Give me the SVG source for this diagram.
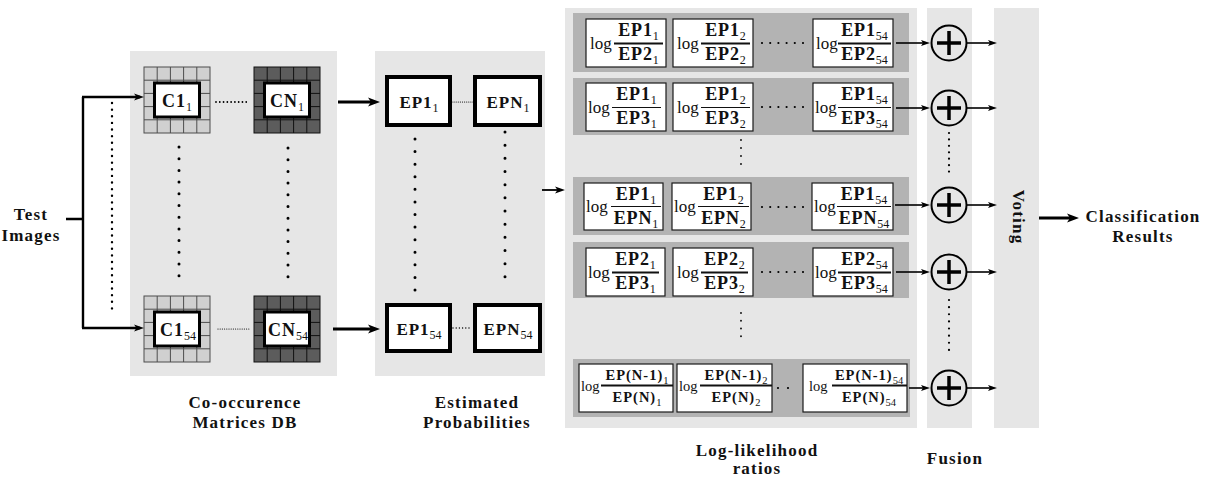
<svg xmlns="http://www.w3.org/2000/svg" xmlns:xlink="http://www.w3.org/1999/xlink" width="1213" height="479" viewBox="0 0 1213 479" font-family="'Liberation Serif', 'DejaVu Serif', serif">
  <style>
    .t { font-family: 'Liberation Serif', 'DejaVu Serif', serif; fill: #111; }
    .lbl { font-weight: bold; font-size: 17px; letter-spacing: 1.2px; text-anchor: middle; }
    .big { font-weight: bold; font-size: 18px; letter-spacing: 1px; text-anchor: middle; }
    .ep { font-weight: bold; font-size: 17px; letter-spacing: 1px; text-anchor: middle; }
    .num { font-weight: bold; font-size: 18px; letter-spacing: 0.8px; text-anchor: middle; }
    .lg { font-size: 17px; }
    .sm { font-weight: bold; font-size: 14.5px; letter-spacing: 1px; text-anchor: middle; }
    .lgs { font-size: 14.5px; }
    .s { font-weight: normal; font-size: 12px; letter-spacing: 0; }
    .ss { font-weight: normal; font-size: 10.5px; letter-spacing: 0; }
    .panel { fill: #e6e6e6; }
    .strip { fill: #b3b3b3; }
    .box { fill: #fff; stroke: #1a1a1a; stroke-width: 1.2; }
    .bar { stroke: #111; stroke-width: 2; }
    .barthin { stroke: #111; stroke-width: 1.2; }
    .ln { fill: none; stroke: #000; }
    .dots { fill: none; stroke: #000; stroke-linecap: round; }
    .sum { fill: none; stroke: #000; stroke-width: 2; }
    .plus { fill: none; stroke: #000; stroke-width: 3.5; }
  </style>
  <defs>
    <marker id="ah" viewBox="0 0 10 8" refX="6" refY="4" markerWidth="10" markerHeight="8" markerUnits="userSpaceOnUse" orient="auto">
      <path d="M0,0.5 L10,4 L0,7.5 L2.5,4 Z" fill="#000"/>
    </marker>
    <marker id="ahs" viewBox="0 0 9 6" refX="5" refY="3" markerWidth="9" markerHeight="6" markerUnits="userSpaceOnUse" orient="auto">
      <path d="M0,0 L9,3 L0,6 L2,3 Z" fill="#000"/>
    </marker>
    <marker id="ahb" viewBox="0 0 12 10" refX="7" refY="5" markerWidth="12" markerHeight="10" markerUnits="userSpaceOnUse" orient="auto">
      <path d="M0,0.5 L12,5 L0,9.5 L3,5 Z" fill="#000"/>
    </marker>
    <!-- 5x5 co-occurrence grid, light cells -->
    <g id="gridLight">
      <rect x="0" y="0" width="66" height="66" fill="#d0d0d0" stroke="#4d4d4d" stroke-width="1"/>
      <path d="M13.2,0V66M26.4,0V66M39.6,0V66M52.8,0V66M0,13.2H66M0,26.4H66M0,39.6H66M0,52.8H66" stroke="#4d4d4d" stroke-width="1"/>
      <rect x="10.5" y="16" width="45" height="34" fill="#fff" stroke="#000" stroke-width="3"/>
    </g>
    <!-- 5x5 co-occurrence grid, dark cells -->
    <g id="gridDark">
      <rect x="0" y="0" width="66" height="66" fill="#5c5c5c" stroke="#111" stroke-width="1"/>
      <path d="M13.2,0V66M26.4,0V66M39.6,0V66M52.8,0V66M0,13.2H66M0,26.4H66M0,39.6H66M0,52.8H66" stroke="#111" stroke-width="1"/>
      <rect x="10.5" y="16" width="45" height="34" fill="#fff" stroke="#000" stroke-width="3"/>
    </g>
    <g id="sumNode">
      <circle cx="0" cy="0" r="17.5" class="sum"/>
      <path d="M-12,0H12M0,-12V12" class="plus"/>
    </g>
  </defs>

  <!-- background panels -->
  <g id="panels">
    <rect class="panel" x="130" y="51" width="207" height="325"/>
    <rect class="panel" x="375" y="51" width="170" height="325"/>
    <rect class="panel" x="565" y="8" width="352" height="420"/>
    <rect class="panel" x="927" y="8" width="45" height="420"/>
    <rect class="panel" x="994" y="8" width="45" height="420"/>
    <rect class="strip" x="573" y="13" width="336" height="59"/>
    <rect class="strip" x="573" y="78" width="336" height="57"/>
    <rect class="strip" x="573" y="177" width="336" height="58"/>
    <rect class="strip" x="573" y="242" width="336" height="56"/>
    <rect class="strip" x="573" y="359" width="337" height="58"/>
  </g>

  <!-- input -->
  <g id="test-images">
    <text class="t lbl" x="31" y="220">Test</text>
    <text class="t lbl" x="31" y="241">Images</text>
  </g>

  <!-- co-occurrence matrices -->
  <g id="c1-1">
    <use xlink:href="#gridLight" x="144" y="67"/>
    <text class="t big" x="177" y="107">C1<tspan class="s" dy="4">1</tspan></text>
  </g>
  <g id="cn-1">
    <use xlink:href="#gridDark" x="254" y="67"/>
    <text class="t big" x="287" y="107">CN<tspan class="s" dy="4">1</tspan></text>
  </g>
  <g id="c1-54">
    <use xlink:href="#gridLight" x="144" y="296"/>
    <text class="t big" x="178" y="336">C1<tspan class="s" dy="4">54</tspan></text>
  </g>
  <g id="cn-54">
    <use xlink:href="#gridDark" x="254" y="296"/>
    <text class="t big" x="288" y="336">CN<tspan class="s" dy="4">54</tspan></text>
  </g>

  <!-- estimated probabilities -->
  <g id="ep1-1">
    <rect x="387" y="77" width="63" height="48" fill="#fff" stroke="#000" stroke-width="4"/>
    <text class="t ep" x="419" y="108">EP1<tspan class="s" dy="4">1</tspan></text>
  </g>
  <g id="epn-1">
    <rect x="475" y="77" width="65" height="48" fill="#fff" stroke="#000" stroke-width="4"/>
    <text class="t ep" x="508" y="108">EPN<tspan class="s" dy="4">1</tspan></text>
  </g>
  <g id="ep1-54">
    <rect x="387" y="305" width="63" height="46" fill="#fff" stroke="#000" stroke-width="4"/>
    <text class="t ep" x="419" y="335">EP1<tspan class="s" dy="4">54</tspan></text>
  </g>
  <g id="epn-54">
    <rect x="475" y="305" width="65" height="46" fill="#fff" stroke="#000" stroke-width="4"/>
    <text class="t ep" x="508" y="335">EPN<tspan class="s" dy="4">54</tspan></text>
  </g>

  <!-- log-likelihood ratios, row EP1/EP2 -->
  <g id="llr-1-2">
    <rect class="box" x="586" y="19" width="80" height="48"/>
    <text class="t lg" x="590" y="49">log</text>
    <line class="bar" x1="614" y1="43.5" x2="663" y2="43.5"/>
    <text class="t num" x="638.5" y="36">EP1<tspan class="s" dy="4">1</tspan></text>
    <text class="t num" x="638.5" y="60">EP2<tspan class="s" dy="4">1</tspan></text>
    <rect class="box" x="673" y="19" width="80" height="48"/>
    <text class="t lg" x="677" y="49">log</text>
    <line class="bar" x1="701" y1="43.5" x2="750" y2="43.5"/>
    <text class="t num" x="725.5" y="36">EP1<tspan class="s" dy="4">2</tspan></text>
    <text class="t num" x="725.5" y="60">EP2<tspan class="s" dy="4">2</tspan></text>
    <rect class="box" x="813" y="19" width="80" height="48"/>
    <text class="t lg" x="816" y="49">log</text>
    <line class="bar" x1="838" y1="43.5" x2="891" y2="43.5"/>
    <text class="t num" x="864.5" y="36">EP1<tspan class="s" dy="4">54</tspan></text>
    <text class="t num" x="864.5" y="60">EP2<tspan class="s" dy="4">54</tspan></text>
  </g>

  <!-- row EP1/EP3 -->
  <g id="llr-1-3">
    <rect class="box" x="586" y="83" width="80" height="48"/>
    <text class="t lg" x="588" y="113">log</text>
    <line class="barthin" x1="612" y1="107.5" x2="661" y2="107.5"/>
    <text class="t num" x="636.5" y="100">EP1<tspan class="s" dy="4">1</tspan></text>
    <text class="t num" x="636.5" y="124">EP3<tspan class="s" dy="4">1</tspan></text>
    <rect class="box" x="673" y="83" width="80" height="48"/>
    <text class="t lg" x="677" y="113">log</text>
    <line class="barthin" x1="701" y1="107.5" x2="750" y2="107.5"/>
    <text class="t num" x="725.5" y="100">EP1<tspan class="s" dy="4">2</tspan></text>
    <text class="t num" x="725.5" y="124">EP3<tspan class="s" dy="4">2</tspan></text>
    <rect class="box" x="813" y="83" width="80" height="48"/>
    <text class="t lg" x="815" y="113">log</text>
    <line class="barthin" x1="838" y1="107.5" x2="891" y2="107.5"/>
    <text class="t num" x="864.5" y="100">EP1<tspan class="s" dy="4">54</tspan></text>
    <text class="t num" x="864.5" y="124">EP3<tspan class="s" dy="4">54</tspan></text>
  </g>

  <!-- row EP1/EPN -->
  <g id="llr-1-n">
    <rect class="box" x="584" y="183" width="79" height="47"/>
    <text class="t lg" x="586" y="212">log</text>
    <line class="barthin" x1="611" y1="206.5" x2="661" y2="206.5"/>
    <text class="t num" x="636" y="200">EP1<tspan class="s" dy="4">1</tspan></text>
    <text class="t num" x="636" y="224">EPN<tspan class="s" dy="4">1</tspan></text>
    <rect class="box" x="672" y="183" width="79" height="47"/>
    <text class="t lg" x="674" y="212">log</text>
    <line class="barthin" x1="698" y1="206.5" x2="749" y2="206.5"/>
    <text class="t num" x="723.5" y="200">EP1<tspan class="s" dy="4">2</tspan></text>
    <text class="t num" x="723.5" y="224">EPN<tspan class="s" dy="4">2</tspan></text>
    <rect class="box" x="812" y="183" width="81" height="47"/>
    <text class="t lg" x="814" y="212">log</text>
    <line class="barthin" x1="837" y1="206.5" x2="891" y2="206.5"/>
    <text class="t num" x="864" y="200">EP1<tspan class="s" dy="4">54</tspan></text>
    <text class="t num" x="864" y="224">EPN<tspan class="s" dy="4">54</tspan></text>
  </g>

  <!-- row EP2/EP3 -->
  <g id="llr-2-3">
    <rect class="box" x="586" y="248" width="79" height="48"/>
    <text class="t lg" x="588" y="278">log</text>
    <line class="bar" x1="612" y1="272.5" x2="659" y2="272.5"/>
    <text class="t num" x="635.5" y="265">EP2<tspan class="s" dy="4">1</tspan></text>
    <text class="t num" x="635.5" y="289">EP3<tspan class="s" dy="4">1</tspan></text>
    <rect class="box" x="673" y="248" width="80" height="48"/>
    <text class="t lg" x="677" y="278">log</text>
    <line class="bar" x1="701" y1="272.5" x2="748" y2="272.5"/>
    <text class="t num" x="724.5" y="265">EP2<tspan class="s" dy="4">2</tspan></text>
    <text class="t num" x="724.5" y="289">EP3<tspan class="s" dy="4">2</tspan></text>
    <rect class="box" x="813" y="248" width="80" height="48"/>
    <text class="t lg" x="815" y="278">log</text>
    <line class="bar" x1="838" y1="272.5" x2="891" y2="272.5"/>
    <text class="t num" x="864.5" y="265">EP2<tspan class="s" dy="4">54</tspan></text>
    <text class="t num" x="864.5" y="289">EP3<tspan class="s" dy="4">54</tspan></text>
  </g>

  <!-- row EP(N-1)/EP(N) -->
  <g id="llr-n1-n">
    <rect class="box" x="579" y="364" width="94" height="48"/>
    <text class="t lgs" x="581" y="391">log</text>
    <line class="bar" x1="601" y1="385.5" x2="673" y2="385.5"/>
    <text class="t sm" x="637" y="380">EP(N-1)<tspan class="ss" dy="3.5">1</tspan></text>
    <text class="t sm" x="637" y="402">EP(N)<tspan class="ss" dy="3.5">1</tspan></text>
    <rect class="box" x="677" y="364" width="95" height="48"/>
    <text class="t lgs" x="679" y="391">log</text>
    <line class="bar" x1="700" y1="385.5" x2="772" y2="385.5"/>
    <text class="t sm" x="736" y="380">EP(N-1)<tspan class="ss" dy="3.5">2</tspan></text>
    <text class="t sm" x="736" y="402">EP(N)<tspan class="ss" dy="3.5">2</tspan></text>
    <rect class="box" x="803" y="364" width="104" height="48"/>
    <text class="t lgs" x="809" y="391">log</text>
    <line class="bar" x1="832" y1="385.5" x2="907" y2="385.5"/>
    <text class="t sm" x="869" y="380">EP(N-1)<tspan class="ss" dy="3.5">54</tspan></text>
    <text class="t sm" x="869" y="402">EP(N)<tspan class="ss" dy="3.5">54</tspan></text>
  </g>

  <!-- fusion nodes -->
  <g id="sum-1"><use xlink:href="#sumNode" x="949" y="43"/></g>
  <g id="sum-2"><use xlink:href="#sumNode" x="949" y="108"/></g>
  <g id="sum-3"><use xlink:href="#sumNode" x="949" y="205"/></g>
  <g id="sum-4"><use xlink:href="#sumNode" x="949" y="272"/></g>
  <g id="sum-5"><use xlink:href="#sumNode" x="949" y="388"/></g>

  <!-- voting -->
  <g id="voting">
    <text class="t lbl" transform="translate(1013,217) rotate(90)">Voting</text>
  </g>

  <!-- output -->
  <g id="results">
    <text class="t lbl" x="1143" y="222">Classification</text>
    <text class="t lbl" x="1143" y="242">Results</text>
  </g>

  <!-- stage captions -->
  <g id="captions">
    <text class="t lbl" x="245" y="408">Co-occurence</text>
    <text class="t lbl" x="245" y="428">Matrices DB</text>
    <text class="t lbl" x="477" y="408">Estimated</text>
    <text class="t lbl" x="477" y="428">Probabilities</text>
    <text class="t lbl" x="757" y="456">Log-likelihood</text>
    <text class="t lbl" x="757" y="474">ratios</text>
    <text class="t lbl" x="955" y="464">Fusion</text>
  </g>

  <!-- ellipsis dots -->
  <g id="ellipses">
    <line class="dots" x1="112" y1="103" x2="112" y2="315" stroke-width="2.4" stroke-dasharray="0 6.625"/>
    <line class="dots" x1="179" y1="147" x2="179" y2="276" stroke-width="3" stroke-dasharray="0 11.7"/>
    <line class="dots" x1="288" y1="148" x2="288" y2="277" stroke-width="3" stroke-dasharray="0 11.7"/>
    <line class="dots" x1="216" y1="102" x2="250" y2="102" stroke-width="1.8" stroke-dasharray="0 3.78"/>
    <line class="dots" x1="218" y1="329" x2="251" y2="329" stroke-width="1.2" stroke-dasharray="0 2.2"/>
    <line class="dots" x1="415" y1="139" x2="415" y2="290" stroke-width="3" stroke-dasharray="0 12.58"/>
    <line class="dots" x1="505" y1="132" x2="505" y2="290" stroke-width="3" stroke-dasharray="0 13.17"/>
    <line class="dots" x1="452" y1="102" x2="473" y2="102" stroke-width="1.2" stroke-dasharray="0 2.1"/>
    <line class="dots" x1="453" y1="328" x2="472" y2="328" stroke-width="1.4" stroke-dasharray="0 3.2"/>
    <line class="dots" x1="762" y1="43" x2="803" y2="43" stroke-width="2.2" stroke-dasharray="0 8.2"/>
    <line class="dots" x1="762" y1="107" x2="803" y2="107" stroke-width="2.2" stroke-dasharray="0 8.2"/>
    <line class="dots" x1="762" y1="207" x2="803" y2="207" stroke-width="2.2" stroke-dasharray="0 8.2"/>
    <line class="dots" x1="762" y1="272" x2="803" y2="272" stroke-width="2.2" stroke-dasharray="0 8.2"/>
    <line class="dots" x1="778" y1="388" x2="798" y2="388" stroke-width="2.2" stroke-dasharray="0 10"/>
    <line class="dots" x1="741" y1="140" x2="741" y2="172" stroke-width="1.8" stroke-dasharray="0 8"/>
    <line class="dots" x1="741" y1="313" x2="741" y2="344" stroke-width="1.8" stroke-dasharray="0 7.75"/>
    <line class="dots" x1="949" y1="133" x2="949" y2="178" stroke-width="2.2" stroke-dasharray="0 6.43"/>
    <line class="dots" x1="949" y1="300" x2="949" y2="357" stroke-width="2.2" stroke-dasharray="0 7.125"/>
  </g>

  <!-- connectors -->
  <g id="connectors">
    <path class="ln" stroke-width="2.4" d="M66,219H83M83,97V328"/>
    <path class="ln" stroke-width="2.4" d="M82,97H140" marker-end="url(#ah)"/>
    <path class="ln" stroke-width="2.4" d="M82,328H140" marker-end="url(#ah)"/>
    <path class="ln" stroke-width="2.8" d="M338,102H375" marker-end="url(#ahb)"/>
    <path class="ln" stroke-width="2.8" d="M333,329H375" marker-end="url(#ahb)"/>
    <path class="ln" stroke-width="1.8" d="M542,190H561" marker-end="url(#ah)"/>
    <path class="ln" stroke-width="1.6" d="M896,43H926" marker-end="url(#ahs)"/>
    <path class="ln" stroke-width="1.6" d="M896,108H926" marker-end="url(#ahs)"/>
    <path class="ln" stroke-width="1.6" d="M895,205H926" marker-end="url(#ahs)"/>
    <path class="ln" stroke-width="1.6" d="M896,272H926" marker-end="url(#ahs)"/>
    <path class="ln" stroke-width="1.6" d="M909,388H926" marker-end="url(#ahs)"/>
    <path class="ln" stroke-width="1.6" d="M967,43H993" marker-end="url(#ahs)"/>
    <path class="ln" stroke-width="1.6" d="M967,108H993" marker-end="url(#ahs)"/>
    <path class="ln" stroke-width="1.6" d="M967,205H993" marker-end="url(#ahs)"/>
    <path class="ln" stroke-width="1.6" d="M967,272H993" marker-end="url(#ahs)"/>
    <path class="ln" stroke-width="1.6" d="M967,388H993" marker-end="url(#ahs)"/>
    <path class="ln" stroke-width="3.2" d="M1039,218H1074" marker-end="url(#ahb)"/>
  </g>
</svg>
